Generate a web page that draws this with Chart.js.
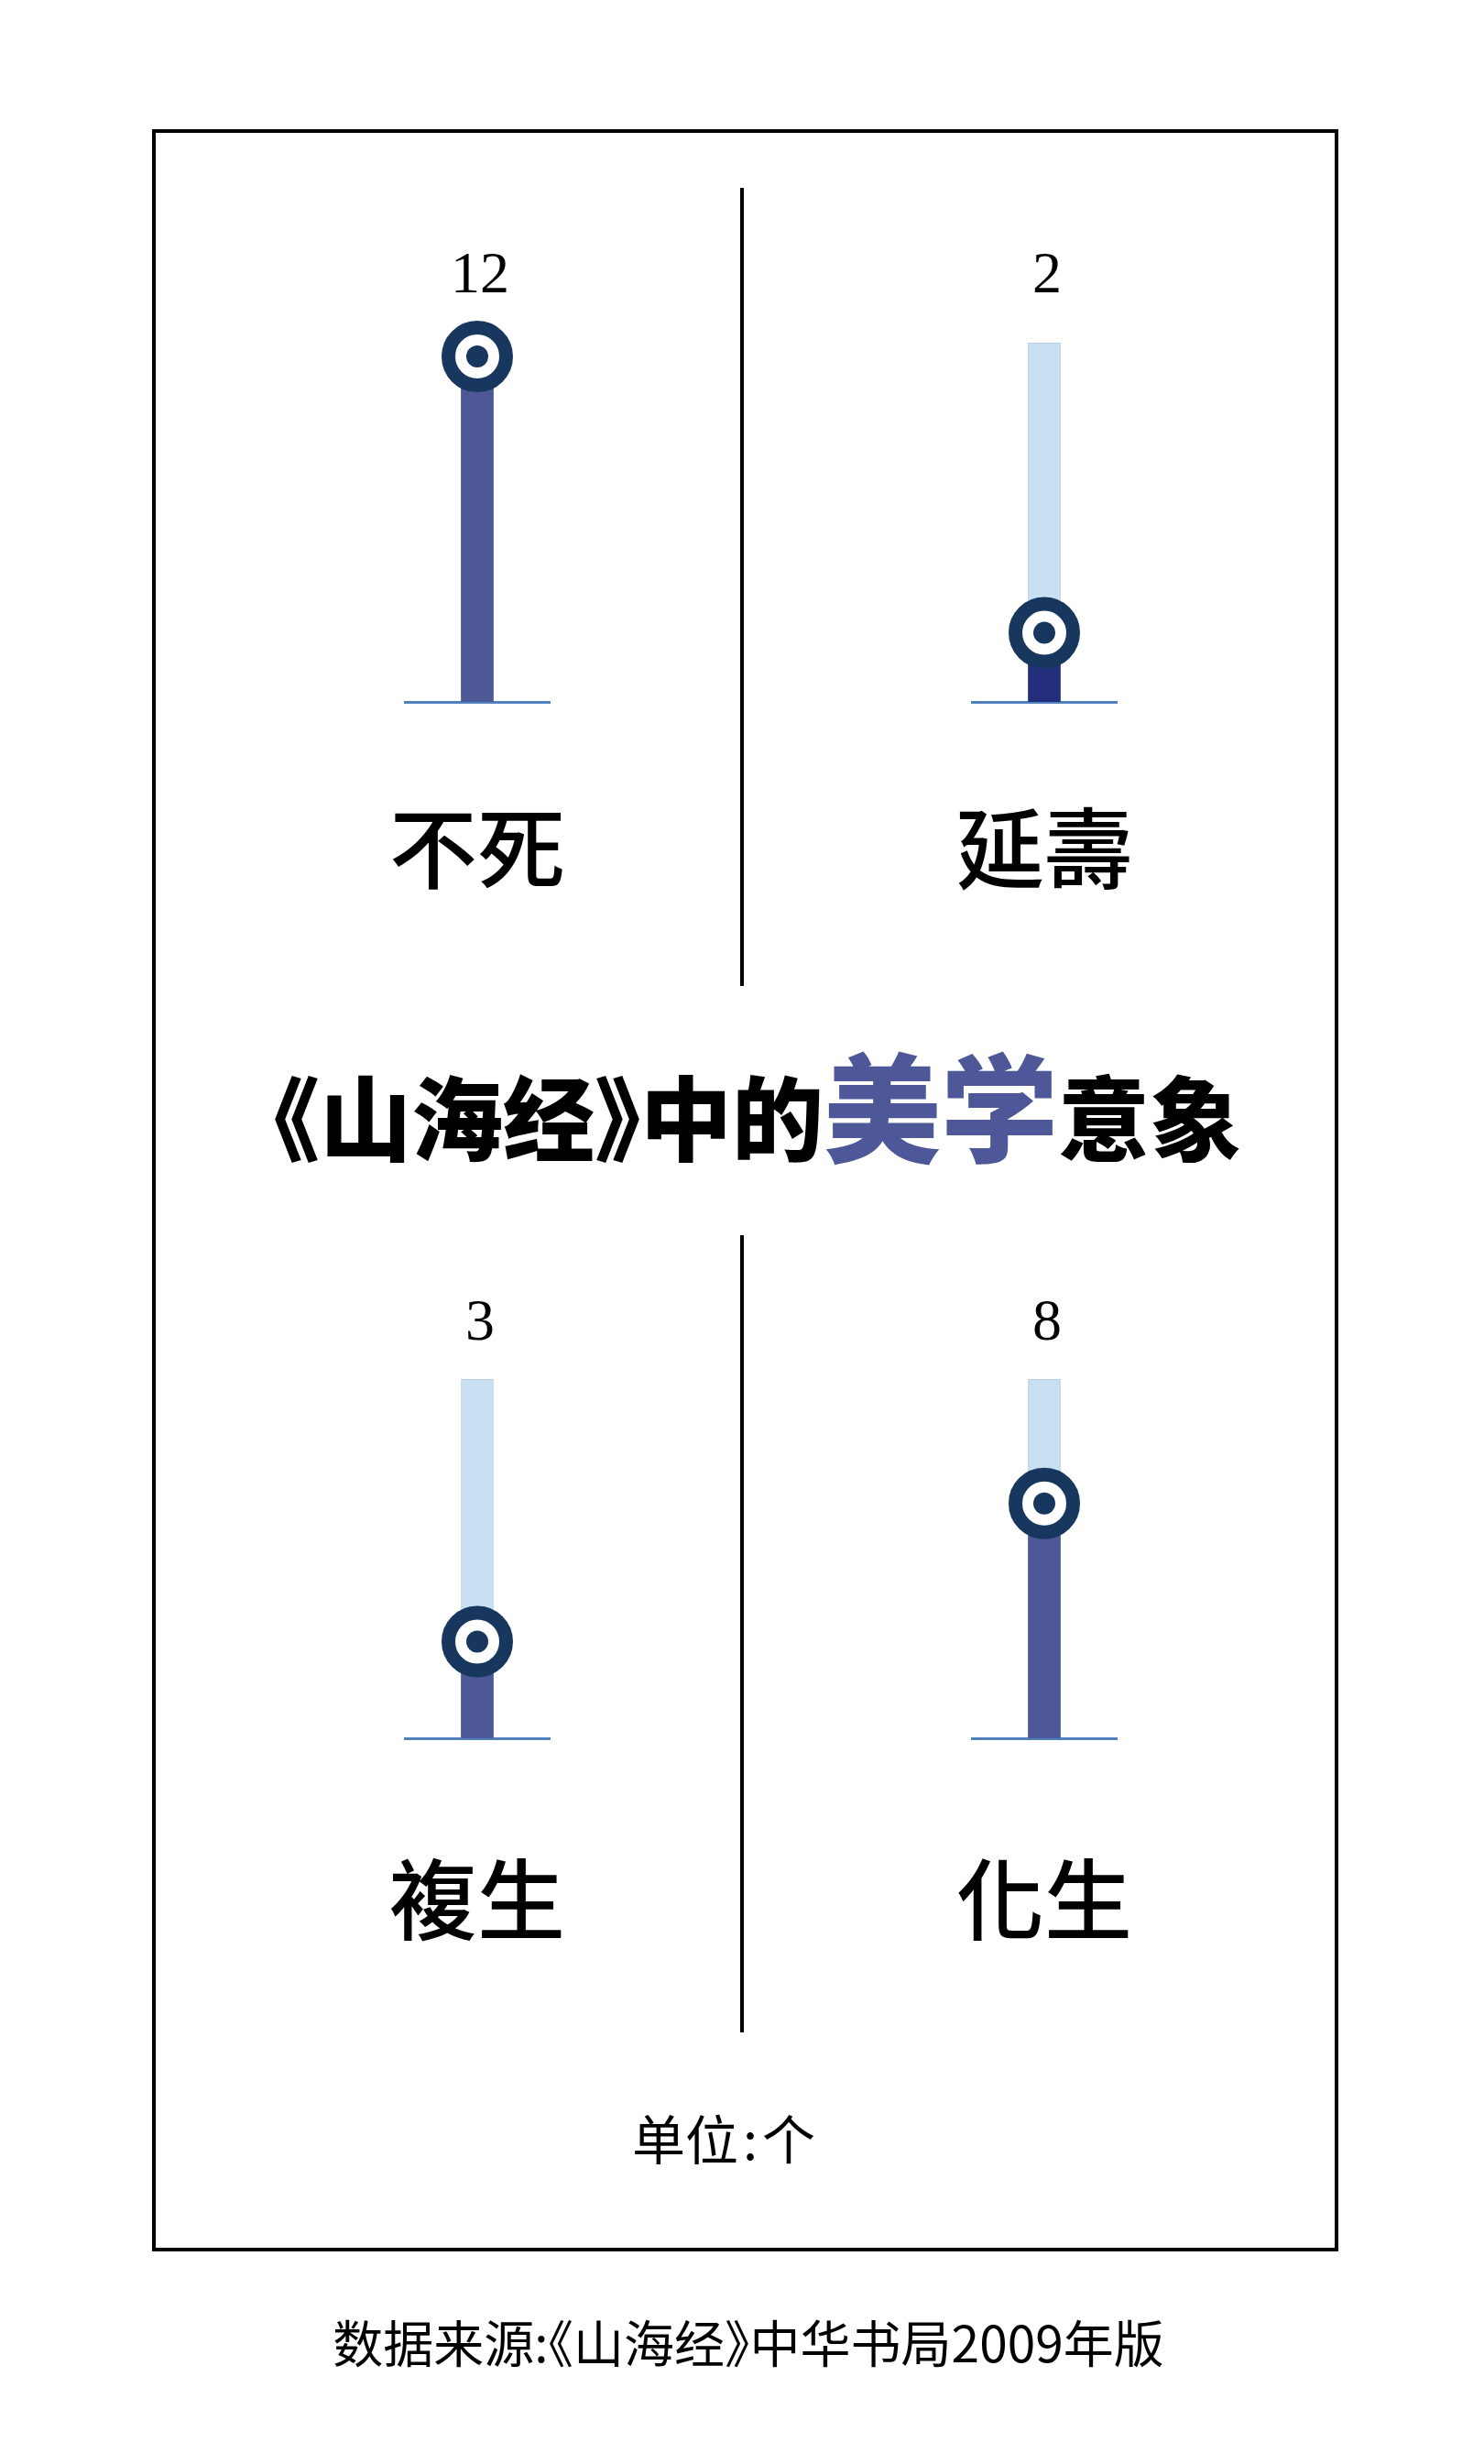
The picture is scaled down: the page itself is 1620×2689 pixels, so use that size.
<!DOCTYPE html>
<html>
<head>
<meta charset="utf-8">
<script src="https://cdn.jsdelivr.net/npm/chart.js@4.4.1/dist/chart.umd.min.js"></script>
<style>
    body {
        margin: 0;
        width: 1620px;
        height: 2689px;
        position: relative;
        overflow: hidden;
        background: #fff;
        font-family: "Noto Sans CJK SC", sans-serif;
    }
    #frame {
        position: absolute;
        left: 166px;
        top: 141px;
        width: 1287px;
        height: 2308px;
        border: 4px solid #000;
    }
    .vline {
        position: absolute;
        left: 808px;
        width: 4px;
        background: #000;
    }
    .box {
        position: absolute;
        width: 400px;
        height: 860px;
    }
    .title {
        position: absolute;
        left: 227px;
        width: 1200px;
        top: 1134px;
        text-align: center;
        font-size: 100px;
        line-height: 140px;
        font-weight: 900;
        color: #000;
        white-space: nowrap;
    }
    .title .hl {
        font-size: 128px;
        color: #4e5899;
    }
    .br {
        font-feature-settings: "halt";
    }
    .unit {
        position: absolute;
        left: 490px;
        width: 600px;
        top: 2303px;
        text-align: center;
        font-size: 58px;
        line-height: 58px;
        font-weight: 400;
    }
    .unit .colon {
        margin: 0 5px;
    }
    .source {
        position: absolute;
        left: 217px;
        width: 1200px;
        top: 2527px;
        text-align: center;
        font-size: 55px;
        line-height: 55px;
        font-weight: 400;
        white-space: nowrap;
    }
</style>
</head>
<body>
<div id="frame"></div>
<div class="vline" style="top:205px;height:871px;"></div>
<div class="vline" style="top:1348px;height:870px;"></div>

<div class="box" style="left:321px;top:230px;"><canvas id="chart0" width="400" height="860"></canvas></div>
<div class="box" style="left:940px;top:230px;"><canvas id="chart1" width="400" height="860"></canvas></div>
<div class="box" style="left:321px;top:1361px;"><canvas id="chart2" width="400" height="860"></canvas></div>
<div class="box" style="left:940px;top:1361px;"><canvas id="chart3" width="400" height="860"></canvas></div>

<div class="title"><span class="br">《</span>山海经<span class="br">》</span>中的<span class="hl">美学</span>意象</div>
<div class="unit">单位<span class="colon">:</span>个</div>
<div class="source">数据来源:<span class="br">《</span>山海经<span class="br">》</span>中华书局2009年版</div>

<script>
let categories = ['不死', '延壽', '複生', '化生'];
let counts = [12, 2, 3, 8];
let trackTop = 12.5;
let axisMin = -0.5;
let barColors = ['#4e5897', '#232e7d', '#4e5897', '#4e5897'];

let navy = '#17375e';

// gap of the number above / the name below the gauge, per row
let gaps = [
    { numberGap: 72, labelGap: 160 },
    { numberGap: 72, labelGap: 160 },
    { numberGap: 60, labelGap: 176 },
    { numberGap: 60, labelGap: 176 }
];

const gaugeLabels = {
    id: 'gaugeLabels',
    afterDraw(chart, args, opts) {
        let ctx = chart.ctx;
        let area = chart.chartArea;
        let x = chart.scales.x.getPixelForValue(0);
        ctx.save();
        ctx.fillStyle = '#000';
        ctx.textAlign = 'center';
        ctx.textBaseline = 'middle';
        ctx.font = '64px "Liberation Serif", serif';
        ctx.fillText(String(opts.count), x + 3, area.top - opts.numberGap);
        ctx.font = '500 96px "Noto Sans CJK TC", sans-serif';
        ctx.fillText(chart.data.labels[0], x, area.bottom + opts.labelGap);
        ctx.restore();
    }
};

categories.forEach((name, i) => {
    let config = {
        data: {
            labels: [name],
            datasets: [{
                    type: 'line',
                    data: [counts[i]],
                    showLine: false,
                    pointRadius: 12,
                    pointHoverRadius: 12,
                    pointBackgroundColor: navy,
                    pointBorderWidth: 0,
                    clip: false,
                    order: 0
                },
                {
                    type: 'line',
                    data: [counts[i]],
                    showLine: false,
                    pointRadius: 31.5,
                    pointHoverRadius: 31.5,
                    pointBackgroundColor: '#fff',
                    pointBorderColor: navy,
                    pointBorderWidth: 15,
                    clip: false,
                    order: 1
                },
                {
                    type: 'bar',
                    data: [counts[i]],
                    base: axisMin,
                    backgroundColor: barColors[i],
                    barThickness: 35,
                    grouped: false,
                    order: 2
                },
                {
                    type: 'bar',
                    data: [trackTop],
                    base: axisMin,
                    backgroundColor: '#c9dff2',
                    borderColor: '#b2c9e2',
                    borderWidth: 1,
                    barThickness: 35,
                    grouped: false,
                    order: 3
                }
            ]
        },
        options: {
            responsive: false,
            animation: false,
            events: [],
            layout: {
                padding: { top: 144, bottom: 324, left: 121, right: 121 }
            },
            scales: {
                x: {
                    grid: { display: false, drawTicks: false },
                    ticks: { display: false },
                    border: { display: true, color: '#4f81bd', width: 3 }
                },
                y: {
                    display: false,
                    min: axisMin,
                    max: trackTop
                }
            },
            plugins: {
                legend: { display: false },
                tooltip: { enabled: false },
                gaugeLabels: {
                    count: counts[i],
                    numberGap: gaps[i].numberGap,
                    labelGap: gaps[i].labelGap
                }
            }
        },
        plugins: [gaugeLabels]
    };
    new Chart(document.getElementById('chart' + i), config);
});
</script>
</body>
</html>
